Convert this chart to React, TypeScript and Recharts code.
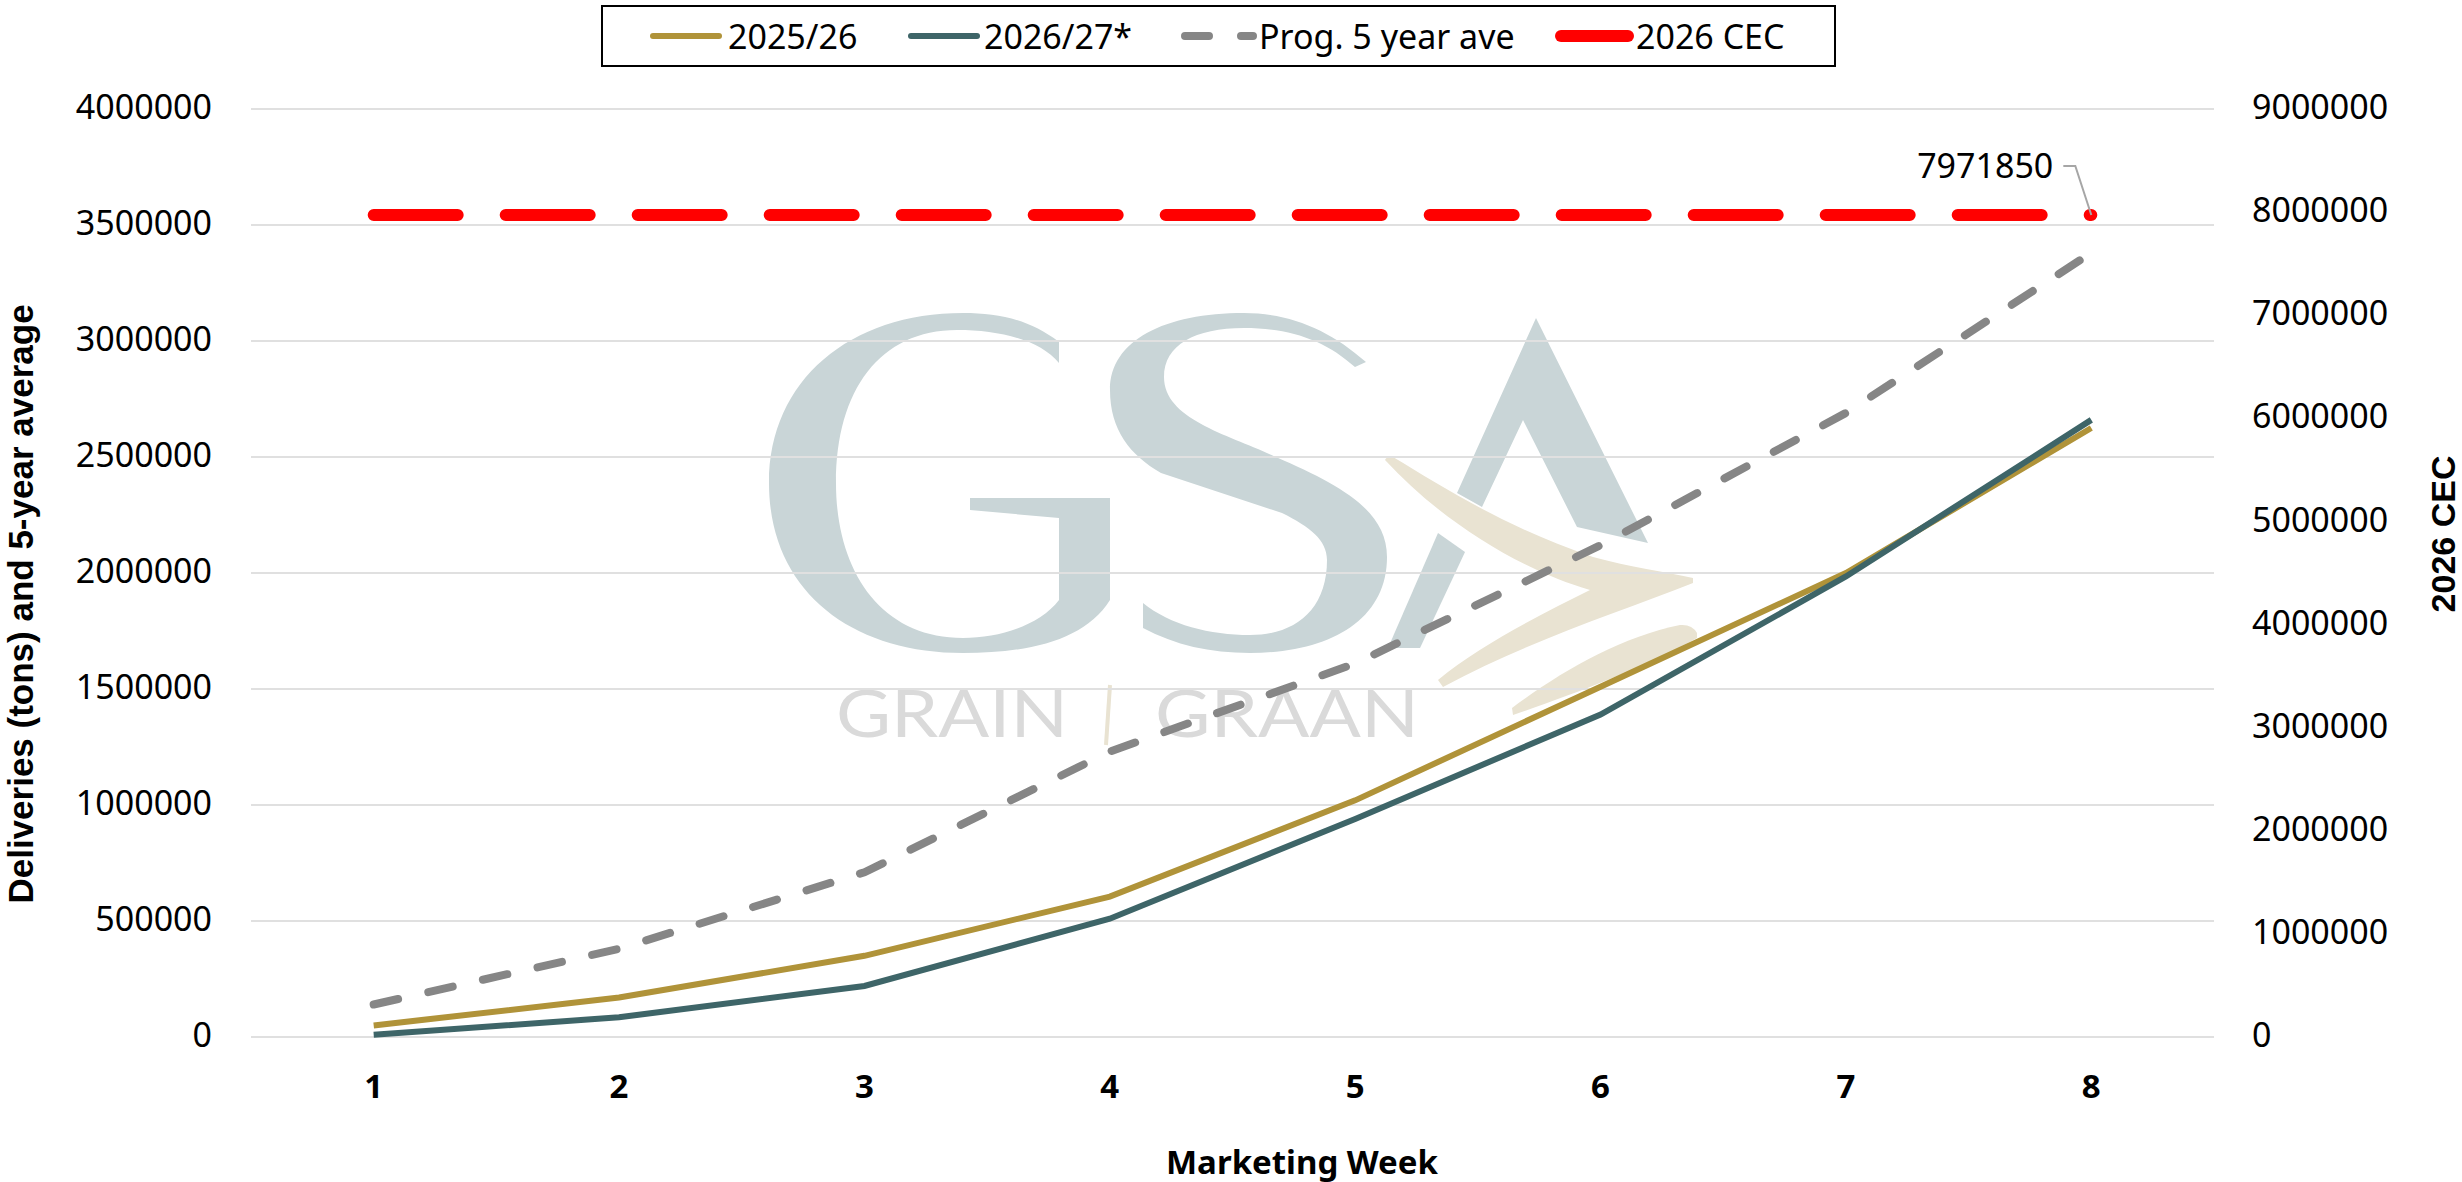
import React from "react";
import { LineChart, Line, XAxis, YAxis, CartesianGrid, Legend } from "recharts";

const weeks = [1, 2, 3, 4, 5, 6, 7, 8];
const season2025 = [50000, 170000, 350000, 605000, 1020000, 1510000, 2000000, 2625000];
const season2026 = [10000, 85000, 220000, 510000, 940000, 1390000, 1985000, 2660000];
const fiveYearAve = [140000, 380000, 710000, 1230000, 1610000, 2120000, 2690000, 3380000];
const cec2026 = [7971850, 7971850, 7971850, 7971850, 7971850, 7971850, 7971850, 7971850];
const leftTicks = [0, 500000, 1000000, 1500000, 2000000, 2500000, 3000000, 3500000, 4000000];
const rightTicks = [0, 1000000, 2000000, 3000000, 4000000, 5000000, 6000000, 7000000, 8000000, 9000000];
const seriesNames = ["2025/26", "2026/27*", "Prog. 5 year ave", "2026 CEC"];

const data = weeks.map((week, i) => ({
  week,
  s25: season2025[i],
  s26: season2026[i],
  ave: fiveYearAve[i],
  cec: cec2026[i],
}));

const FONT = "'Noto Sans', sans-serif";
const TITLE_FONT = "'Liberation Sans', Arial, sans-serif";
const GOLD = "#B09339";
const TEAL = "#3E6568";
const GREY = "#868686";
const RED = "#FF0000";
const WM_BLUE = "#C9D5D7";
const WM_TAN = "#E9E3D2";

const legendStyles = [
  { left: 47, w: 72, sw: 6, gap: 6 },
  { left: 305, w: 72, sw: 6, gap: 4 },
  { left: 578, w: 76, sw: 8, gap: 2, dash: "24 32" },
  { left: 952, w: 79, sw: 12, gap: 2 },
];

function LegendBox({ payload }: any) {
  const items = [...(payload || [])].sort((a: any, b: any) => seriesNames.indexOf(a.value) - seriesNames.indexOf(b.value));
  return (
    <div style={{ position: "relative", height: 0 }}>
      <div
        style={{
          position: "absolute",
          left: 601,
          top: 5,
          width: 1235,
          height: 62,
          boxSizing: "border-box",
          border: "2px solid #000",
          background: "#fff",
        }}
      >
        {items.map((p: any, i: number) => {
          const s = legendStyles[i];
          return (
            <div key={p.value} style={{ position: "absolute", left: s.left, top: 0, height: 58, display: "flex", alignItems: "center" }}>
              <svg width={s.w} height={16} style={{ marginRight: s.gap, display: "block" }}>
                <line
                  x1={s.sw / 2}
                  x2={s.w - s.sw / 2}
                  y1={8}
                  y2={8}
                  stroke={p.color}
                  strokeWidth={s.sw}
                  strokeLinecap="round"
                  strokeDasharray={s.dash}
                />
              </svg>
              <span style={{ fontFamily: FONT, fontSize: 34, color: "#000", lineHeight: "58px", whiteSpace: "nowrap" }}>{p.value}</span>
            </div>
          );
        })}
      </div>
    </div>
  );
}

function CecLabel({ x, y, index, value }: any) {
  if (index !== weeks.length - 1) return null;
  return (
    <g>
      <polyline
        points={`${x - 28},${y - 49} ${x - 16},${y - 49} ${x},${y}`}
        fill="none"
        stroke="#A6A6A6"
        strokeWidth={2}
      />
      <text x={x - 38} y={y - 37} textAnchor="end" fontFamily={FONT} fontSize={34} fill="#000">
        {value}
      </text>
    </g>
  );
}

function AxisTitle({ px, py, rot, text, family, size }: any) {
  return (
    <text
      x={px}
      y={py}
      transform={rot ? `rotate(${rot} ${px} ${py})` : undefined}
      textAnchor="middle"
      dominantBaseline="central"
      fontFamily={family}
      fontSize={size}
      fontWeight={700}
      fill="#000"
    >
      {text}
    </text>
  );
}

function Watermark() {
  return (
    <svg width={2462} height={1182} style={{ position: "absolute", left: 0, top: 0 }}>
      <path
        d="M1059 342 C1030 320 1000 313 963 313 C850 313 769 380 769 483 C769 590 850 653 963 653 C1030 653 1085 640 1110 600 L1110 498 L970 498 L970 510 L1059 518 L1059 600 C1040 625 1000 638 963 638 C880 638 836 570 836 483 C836 390 880 330 957 330 C1000 330 1040 340 1059 363 Z"
        fill={WM_BLUE}
      />
      <path
        d="M1366 362 C1330 330 1290 313 1244 313 C1165 313 1110 340 1110 390 C1110 430 1130 455 1161 473 L1282 513 C1310 527 1327 540 1327 560 C1327 610 1295 635 1250 635 C1210 635 1170 625 1143 603 L1143 628 C1175 645 1210 653 1250 653 C1330 653 1387 620 1387 557 C1387 510 1340 485 1276 457 C1230 435 1164 420 1164 377 C1164 345 1195 328 1244 328 C1290 328 1325 340 1355 367 Z"
        fill={WM_BLUE}
      />
      <path d="M1536 318 L1648 543 L1577 527 L1523 420 L1482 507 L1457 493 Z" fill={WM_BLUE} />
      <path d="M1438 533 L1465 552 L1420 648 L1388 648 Z" fill={WM_BLUE} />
      <path
        d="M1385 460 Q1387 456 1393 457 C1440 485 1500 525 1593 557 C1630 567 1665 572 1693 578 L1693 583 C1620 612 1530 640 1443 687 L1438 680 C1480 645 1540 615 1590 590 C1520 570 1440 520 1385 460 Z"
        fill={WM_TAN}
      />
      <path
        d="M1697 633 Q1692 624 1680 625 C1620 637 1560 672 1512 708 L1513 715 C1570 695 1640 670 1697 638 Z"
        fill={WM_TAN}
      />
      <text x={836} y={737} fontFamily="Lato, sans-serif" fontWeight={400} fontSize={66} fill="#DADADA" textLength={232} lengthAdjust="spacingAndGlyphs">GRAIN</text>
      <text x={1155} y={737} fontFamily="Lato, sans-serif" fontWeight={400} fontSize={66} fill="#DADADA" textLength={264} lengthAdjust="spacingAndGlyphs">GRAAN</text>
      <line x1={1110} y1={685} x2={1106} y2={745} stroke={WM_TAN} strokeWidth={4} />
    </svg>
  );
}

export default function App() {
  const tick = { fontFamily: FONT, fontSize: 34, fill: "#000", dy: -2 };
  const boldTick = { fontFamily: FONT, fontSize: 33, fontWeight: 700, fill: "#000" };
  return (
    <div style={{ position: "absolute", left: 0, top: 0, width: 2462, height: 1182, background: "#fff" }}>
      <Watermark />
      <div style={{ position: "absolute", left: 0, top: 0 }}>
        <LineChart width={2462} height={1182} data={data} margin={{ top: 109, right: 0, bottom: 0, left: 0 }}>
          <CartesianGrid horizontal vertical={false} stroke="#E0E0E0" strokeWidth={2} yAxisId="left" />
          <XAxis
            dataKey="week"
            scale="band"
            height={145}
            axisLine={false}
            tickLine={false}
            tick={boldTick}
            tickMargin={32}
            interval={0}
            label={<AxisTitle px={1302} py={1161} text="Marketing Week" family={FONT} size={33} />}
          />
          <YAxis
            yAxisId="left"
            width={251}
            domain={[0, 4000000]}
            ticks={leftTicks}
            interval={0}
            axisLine={false}
            tickLine={false}
            tick={tick}
            tickMargin={33}
            label={<AxisTitle px={20} py={604} rot={-90} text="Deliveries (tons) and 5-year average" family={TITLE_FONT} size={35} />}
          />
          <YAxis
            yAxisId="right"
            orientation="right"
            width={248}
            domain={[0, 9000000]}
            ticks={rightTicks}
            interval={0}
            axisLine={false}
            tickLine={false}
            tick={tick}
            tickMargin={32}
            label={<AxisTitle px={2443} py={534} rot={-90} text="2026 CEC" family={TITLE_FONT} size={34} />}
          />
          <Legend verticalAlign="top" content={<LegendBox />} wrapperStyle={{ top: 0, left: 0, width: 2462, height: 0 }} />
          <Line yAxisId="left" dataKey="s25" name="2025/26" stroke={GOLD} strokeWidth={6} dot={false} isAnimationActive={false} />
          <Line yAxisId="left" dataKey="s26" name="2026/27*" stroke={TEAL} strokeWidth={6} dot={false} isAnimationActive={false} />
          <Line yAxisId="left" dataKey="ave" name="Prog. 5 year ave" stroke={GREY} strokeWidth={8} strokeDasharray="25 31" strokeLinecap="round" dot={false} isAnimationActive={false} />
          <Line yAxisId="right" dataKey="cec" name="2026 CEC" stroke={RED} strokeWidth={12} strokeDasharray="84 48" strokeLinecap="round" dot={false} label={<CecLabel />} isAnimationActive={false} />
        </LineChart>
      </div>
    </div>
  );
}
